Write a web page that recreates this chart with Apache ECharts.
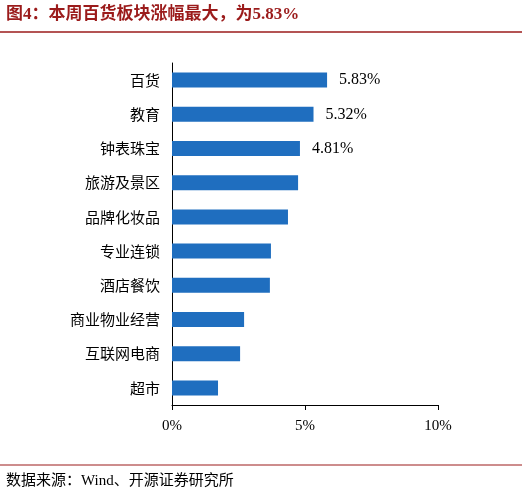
<!DOCTYPE html>
<html><head><meta charset="utf-8">
<script src="https://cdn.jsdelivr.net/npm/echarts@6/dist/echarts.min.js"></script>
<style>body{margin:0;background:#fff}#c{width:522px;height:499px}</style>
</head><body><div id="c"></div>
<script>
const categories = ['百货','教育','钟表珠宝','旅游及景区','品牌化妆品','专业连锁','酒店餐饮','商业物业经营','互联网电商','超市'];
const values = [5.83,5.32,4.81,4.74,4.36,3.72,3.68,2.71,2.56,1.73];
const labelled = ['百货','教育','钟表珠宝'];
const xTicks = [0,5,10];
const chart = echarts.init(document.getElementById('c'));
chart.setOption({
  animation:false,
  graphic:[
    {type:'text',left:6,top:6,style:{text:'图4：本周百货板块涨幅最大，为5.83%',fill:'#9b1b1b',font:'bold 17px "Liberation Serif","Noto Sans CJK SC"'}},
    {type:'line',shape:{x1:0,y1:32,x2:522,y2:32},style:{stroke:'#9b1b1b',lineWidth:1.5}},
    {type:'line',shape:{x1:0,y1:465,x2:522,y2:465},style:{stroke:'#9b1b1b',lineWidth:1}},
    {type:'text',left:6,top:474,style:{text:'数据来源：Wind、开源证券研究所',fill:'#000',font:'15px "Liberation Serif","Noto Sans CJK SC"'}}
  ],
  grid:{left:172,right:84,top:63,bottom:94},
  xAxis:{type:'value',min:0,max:10,interval:5,
    axisLine:{show:true,lineStyle:{color:'#000'}},axisTick:{show:true,length:5,lineStyle:{color:'#000'}},
    splitLine:{show:false},
    axisLabel:{formatter:v=>v+'%',color:'#000',fontSize:15,fontFamily:'Liberation Serif',margin:14}},
  yAxis:{type:'category',data:categories,inverse:true,
    axisLine:{lineStyle:{color:'#000'}},axisTick:{show:false},
    axisLabel:{color:'#000',fontSize:15,fontFamily:'Noto Sans CJK SC',margin:12}},
  series:[{type:'bar',data:values.map((v,i)=>({value:v,label:{show:labelled.includes(categories[i])}})),
    barWidth:15,itemStyle:{color:'#1f6ebf'},
    label:{position:'right',distance:12,formatter:p=>p.value.toFixed(2)+'%',color:'#000',fontSize:16,fontFamily:'Liberation Serif'}}]
});
</script></body></html>
